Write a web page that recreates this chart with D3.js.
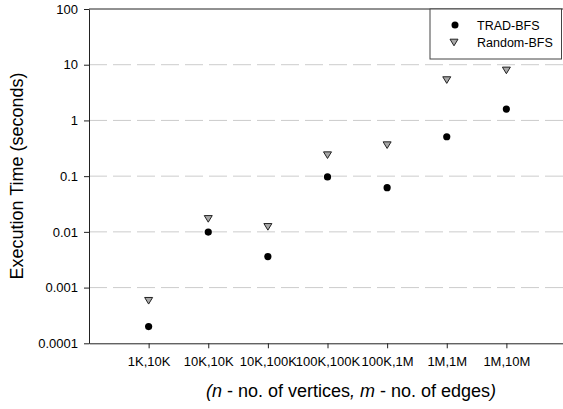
<!DOCTYPE html>
<html><head><meta charset="utf-8">
<script src="https://cdn.jsdelivr.net/npm/d3@7"></script>
<style>body{margin:0;background:#fff}svg{display:block;font-family:"Liberation Sans",Arial,sans-serif}</style>
</head><body><svg id="c" width="563" height="409"></svg>
<script>
const categories = ["1K,10K","10K,10K","10K,100K","100K,100K","100K,1M","1M,1M","1M,10M"];
const tradBFS = [0.0002, 0.0099, 0.0036, 0.097, 0.062, 0.51, 1.6];
const randomBFS = [0.00058, 0.0171, 0.0123, 0.238, 0.36, 5.3, 7.9];
const yTicks = [0.0001, 0.001, 0.01, 0.1, 1, 10, 100];
const yTickLabels = ["0.0001","0.001","0.01","0.1","1","10","100"];
const seriesNames = ["TRAD-BFS","Random-BFS"];

const FONT = "'Liberation Sans', Arial, sans-serif";
const svg = d3.select("#c");
const L = 89, T = 9, B = 343.3, R = 566;
const x = d3.scaleLinear().domain([0, categories.length + 1]).range([L, R]);
const y = d3.scaleLog().domain([0.0001, 100]).range([B, T]);

// grid
svg.append("g").selectAll("line").data(yTicks.filter(v => v > 0.0001 && v < 100)).join("line")
  .attr("x1", L).attr("x2", 563).attr("y1", d => y(d)).attr("y2", d => y(d))
  .attr("stroke", "#cccccc").attr("stroke-width", 1).attr("stroke-dasharray", "18,6");

// top border
svg.append("line").attr("x1", L).attr("x2", 563).attr("y1", T).attr("y2", T).attr("stroke", "#222");

// y axis
const ya = svg.append("g").attr("transform", `translate(${L},0)`)
  .call(d3.axisLeft(y).tickValues(yTicks).tickFormat((d, i) => yTickLabels[i]).tickSize(5).tickPadding(6).tickSizeOuter(0));
ya.select(".domain").attr("stroke", "#222");
ya.selectAll(".tick line").attr("stroke", "#222");
ya.selectAll("text").attr("font-size", 13).attr("fill", "#000").attr("font-family", FONT);

// x axis
const xa = svg.append("g").attr("transform", `translate(0,${B})`)
  .call(d3.axisBottom(x).tickValues(d3.range(1, categories.length + 1)).tickFormat(d => categories[d - 1]).tickSize(5).tickPadding(8.5).tickSizeOuter(0));
xa.select(".domain").attr("stroke", "#222");
xa.selectAll(".tick line").attr("stroke", "#222");
xa.selectAll("text").attr("font-size", 13).attr("fill", "#000").attr("font-family", FONT);

// y label
svg.append("text").attr("transform", "translate(23,176) rotate(-90)").attr("text-anchor", "middle")
  .attr("font-size", 18).attr("font-family", FONT).text("Execution Time (seconds)");

// x label
const xl = svg.append("text").attr("x", 351).attr("y", 397).attr("text-anchor", "middle")
  .attr("font-size", 18).attr("font-family", FONT);
xl.append("tspan").attr("font-style", "italic").text("(n");
xl.append("tspan").text(" - no. of vertices");
xl.append("tspan").attr("font-style", "italic").text(", m");
xl.append("tspan").text(" - no. of edges");
xl.append("tspan").attr("font-style", "italic").text(")");

const tri = "M-4,-3.3L4,-3.3L0,3.3Z";
// random (triangles down)
svg.append("g").selectAll("path").data(randomBFS).join("path")
  .attr("d", tri).attr("transform", (d, i) => `translate(${x(i + 1)},${y(d)})`)
  .attr("fill", "#a8a8a8").attr("stroke", "#222").attr("stroke-width", 1);
// trad (circles)
svg.append("g").selectAll("circle").data(tradBFS).join("circle")
  .attr("cx", (d, i) => x(i + 1)).attr("cy", d => y(d)).attr("r", 3.6).attr("fill", "#000");

// legend
const lg = svg.append("g");
lg.append("rect").attr("x", 430).attr("y", T).attr("width", 131.5).attr("height", 50)
  .attr("fill", "#fff").attr("stroke", "#444").attr("stroke-width", 1);
lg.append("circle").attr("cx", 455).attr("cy", 25).attr("r", 3.5).attr("fill", "#000");
lg.append("path").attr("d", tri).attr("transform", "translate(454,42.5)")
  .attr("fill", "#a8a8a8").attr("stroke", "#222");
lg.selectAll("text").data(seriesNames).join("text")
  .attr("x", 477).attr("y", (d, i) => 29.5 + i * 17).attr("font-size", 12.5).attr("font-family", FONT).text(d => d);
</script></body></html>
